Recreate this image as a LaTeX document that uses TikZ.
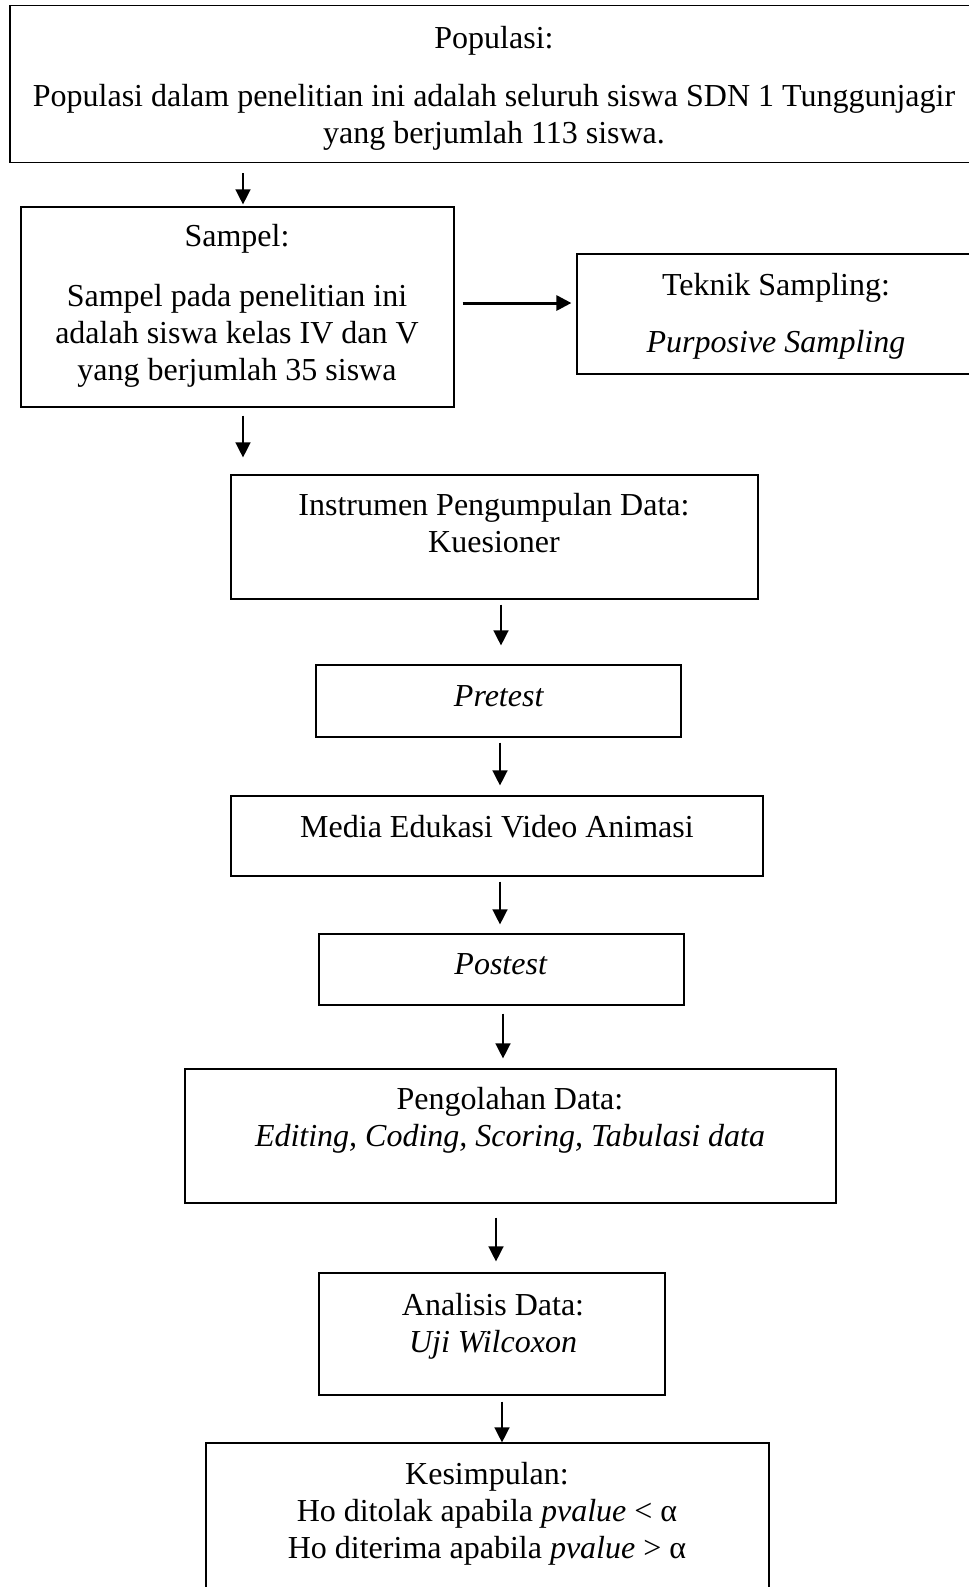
\documentclass[tikz,border=0pt]{standalone}
\usepackage{fontspec}
\setmainfont{Liberation Serif}
\usetikzlibrary{arrows.meta}
\begin{document}
\begin{tikzpicture}[x=0.5pt,y=-0.5pt,
	kotak/.style={draw,line width=0.6pt,inner sep=0pt},
	teks/.style={align=center,inner sep=0pt,font=\fontsize{16}{18.5}\selectfont},
	panah/.style={-{Triangle[length=7.5pt,width=7.5pt]},line width=0.7pt}]
			\clip (0,0) rectangle (969,1587);
			% kotak
			\node[kotak,minimum width=482.5pt,minimum height=78.5pt] (populasi) at (492.5,84) {};
			\node[kotak,minimum width=216.5pt,minimum height=100pt] (sampel) at (237.5,307) {};
			\node[kotak,minimum width=199pt,minimum height=60pt] (teknik) at (776,314) {};
			\node[kotak,minimum width=263.5pt,minimum height=62pt] (instrumen) at (494.5,537) {};
			\node[kotak,minimum width=182.5pt,minimum height=36pt] (pretest) at (498.5,701) {};
			\node[kotak,minimum width=266pt,minimum height=40pt] (media) at (497,836) {};
			\node[kotak,minimum width=182.5pt,minimum height=35.5pt] (postest) at (501.5,969.5) {};
			\node[kotak,minimum width=325.5pt,minimum height=67pt] (olah) at (510.5,1136) {};
			\node[kotak,minimum width=173pt,minimum height=61pt] (analisis) at (492,1334) {};
			\node[kotak,minimum width=281.5pt,minimum height=83.5pt] (simpul) at (487.5,1526.5) {};
			% teks
			\node[teks] (populasi-t) at (494,88) {Populasi:\\[10.5pt] Populasi dalam penelitian ini adalah seluruh siswa SDN 1 Tunggunjagir\\ yang berjumlah 113 siswa.};
			\node[teks] (sampel-t) at (237,305.5) {Sampel:\\[11.5pt] Sampel pada penelitian ini\\ adalah siswa kelas IV dan V\\ yang berjumlah 35 siswa};
			\node[teks] (teknik-t) at (776,316.5) {Teknik Sampling:\\[10pt] \textit{Purposive Sampling}};
			\node[teks] (instrumen-t) at (494,523.5) {Instrumen Pengumpulan Data:\\ Kuesioner};
			\node[teks] (pretest-t) at (499,696.5) {\textit{Pretest}};
			\node[teks] (media-t) at (497,827) {Media Edukasi Video Animasi};
			\node[teks] (postest-t) at (501,964.5) {\textit{Postest}};
			\node[teks] (olah-t) at (510,1120.5) {Pengolahan Data:\\ \textit{Editing, Coding, Scoring, Tabulasi data}};
			\node[teks] (analisis-t) at (493,1326) {Analisis Data:\\ \textit{Uji Wilcoxon}};
			\node[teks] (simpul-t) at (487,1514) {Kesimpulan:\\ Ho ditolak apabila \textit{pvalue} < α\\ Ho diterima apabila \textit{pvalue} > α};
			% panah
			\draw[panah,shorten <=5pt,shorten >=1pt] (populasi.south -| 243,0) -- (sampel.north -| 243,0);
			\draw[panah,line width=1.5pt,shorten <=4pt,shorten >=2.5pt] (sampel.east |- 0,303) -- (teknik.west |- 0,303);
			\draw[panah,shorten <=4pt,shorten >=8.5pt] (sampel.south -| 243,0) -- (instrumen.north -| 243,0);
			\draw[panah,shorten <=2.5pt,shorten >=9.5pt] (instrumen.south -| 501,0) -- (pretest.north -| 501,0);
			\draw[panah,shorten <=2.5pt,shorten >=5pt] (pretest.south -| 500,0) -- (media.north -| 500,0);
			\draw[panah,shorten <=2.5pt,shorten >=4.5pt] (media.south -| 500,0) -- (postest.north -| 500,0);
			\draw[panah,shorten <=4pt,shorten >=5pt] (postest.south -| 503,0) -- (olah.north -| 503,0);
			\draw[panah,shorten <=7pt,shorten >=5.5pt] (olah.south -| 496,0) -- (analisis.north -| 496,0);
			\draw[panah,shorten <=3pt,shorten >=0pt] (analisis.south -| 502,0) -- (simpul.north -| 502,0);
		\end{tikzpicture}
\end{document}
